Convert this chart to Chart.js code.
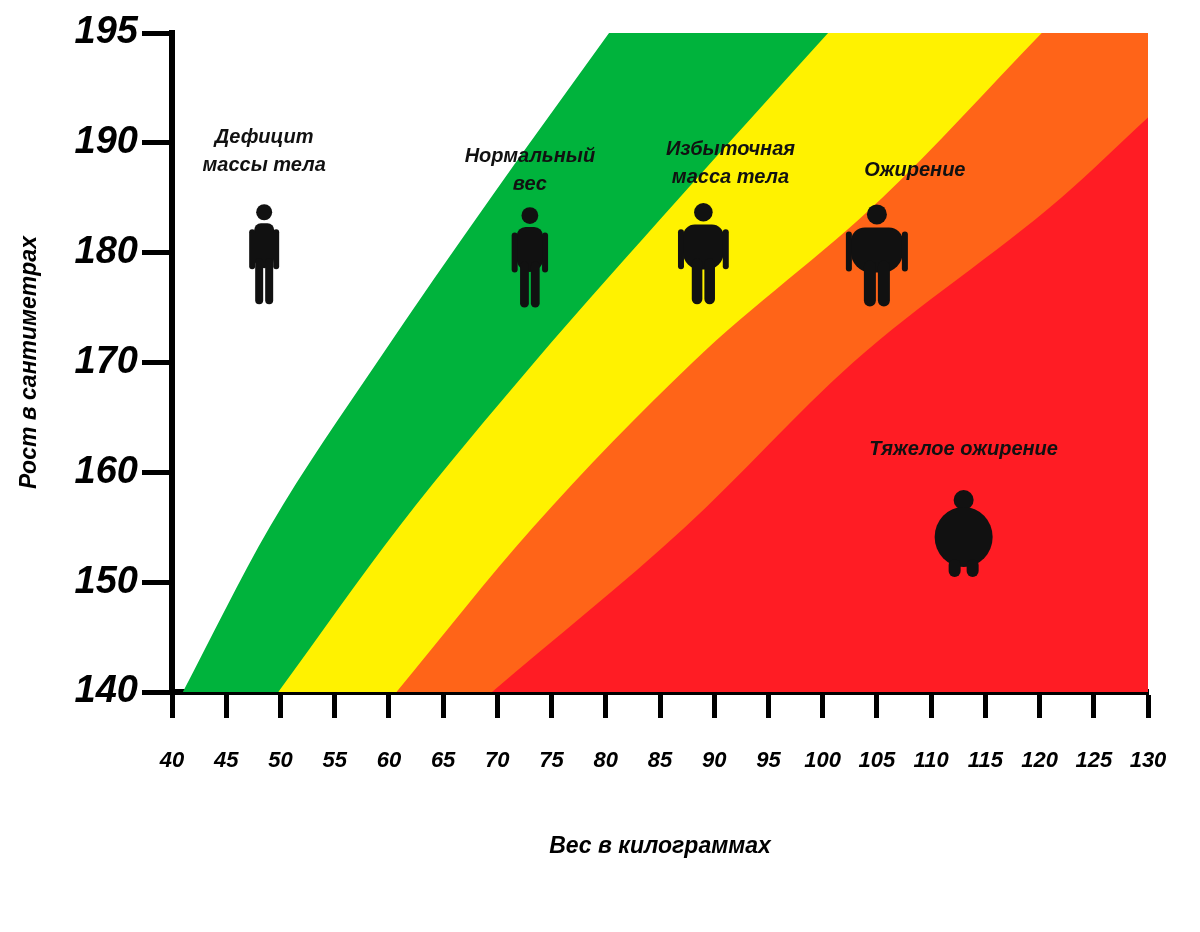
<!DOCTYPE html>
<html><head><meta charset="utf-8">
<script src="https://cdn.jsdelivr.net/npm/chart.js@4"></script>
<style>html,body{margin:0;background:#fff}#wrap{width:1200px;height:932px}</style>
</head><body><div id="wrap"><canvas id="c"></canvas></div>
<script>
// the axis puts "195" one full step above 190, so the top of the scale is 200 (labelled 195)
const yTicks     = [140, 150, 160, 170, 180, 190, 200];
const yTickText  = ['140', '150', '160', '170', '180', '190', '195'];

// boundaries between zones: weight (kg) at given scale height
// (last point continues each boundary past the clipped top / right edge)
const heights   = [140, 155, 170, 185, 200, 215];
const underNorm = [41, 49, 58.9, 69.4, 80.3, 91.2];
const normOver  = [49.8, 60.9, 73.4, 86.8, 100.5, 114.2];
const overObese = [60.7, 73.3, 88, 105.5, 120.2, 134.9];
const obeseHeavyH = [140, 155, 170, 185, 192.3, 201.4];
const obeseHeavy  = [69.5, 87.3, 102.8, 122, 130, 140];

const zoneLabels = [
  { x: 48.5, y: 190,   lines: ['Дефицит', 'массы тела'] },
  { x: 73,   y: 188.3, lines: ['Нормальный', 'вес'] },
  { x: 91.5, y: 188.9, lines: ['Избыточная', 'масса тела'] },
  { x: 108.5, y: 187,  lines: ['Ожирение'] },
  { x: 113,  y: 161.6, lines: ['Тяжелое ожирение'] },
];
// figure: x, y (head top), girth
const figures = [
  { x: 48.5, y: 184.5, w: 0 },
  { x: 73,   y: 184.2, w: 0.4 },
  { x: 89,   y: 184.5, w: 1.3 },
  { x: 105,  y: 184.3, w: 2 },
  { x: 113,  y: 158.3, w: 3 },
];

const FONT = '"Liberation Sans"';

function zone(ws, hs, color, order) {
  const pts = ws.map((w, i) => ({ x: w, y: hs[i] }));
  pts.push({ x: 170, y: hs[hs.length - 1] });
  return { data: pts, showLine: true, borderWidth: 0, pointRadius: 0,
    backgroundColor: color, borderColor: color, fill: 'start', order,
    cubicInterpolationMode: 'monotone' };
}

function limb(ctx, x, y, w, h) {
  ctx.beginPath(); ctx.roundRect(x, y, w, h, w / 2); ctx.fill();
}

const decor = {
  id: 'decor',
  afterDatasetsDraw(chart) {
    const { ctx, scales: { x, y } } = chart;
    ctx.save();
    ctx.fillStyle = '#111';
    ctx.textAlign = 'center';
    ctx.font = `italic bold 20px ${FONT}`;
    zoneLabels.forEach(l => {
      l.lines.forEach((t, i) => ctx.fillText(t, x.getPixelForValue(l.x), y.getPixelForValue(l.y) + i * 28));
    });
    figures.forEach(f => {
      const cx = x.getPixelForValue(f.x), top = y.getPixelForValue(f.y);
      const g = f.w;
      if (g < 3) {
        ctx.beginPath(); ctx.arc(cx, top + 9, 8 + g, 0, Math.PI * 2); ctx.fill();
        const bw = 10 + g * 8;
        ctx.beginPath(); ctx.roundRect(cx - bw, top + 20 + g, bw * 2, 45, [8 + g * 3, 8 + g * 3, 12 + g * 4, 12 + g * 4]); ctx.fill();
        limb(ctx, cx - bw - 5, top + 26, 6, 40);
        limb(ctx, cx + bw - 1, top + 26, 6, 40);
        limb(ctx, cx - 9 - g * 2, top + 55, 8 + g * 2, 46);
        limb(ctx, cx + 1, top + 55, 8 + g * 2, 46);
      } else {
        ctx.beginPath(); ctx.arc(cx, top + 9, 10, 0, Math.PI * 2); ctx.fill();
        ctx.beginPath(); ctx.ellipse(cx, top + 46, 29, 30, 0, 0, Math.PI * 2); ctx.fill();
        limb(ctx, cx - 15, top + 68, 12, 18);
        limb(ctx, cx + 3, top + 68, 12, 18);
      }
    });
    ctx.restore();
  }
};

new Chart(document.getElementById('c'), {
  type: 'scatter',
  data: { datasets: [
    zone(underNorm, heights, '#00b33c', 4),
    zone(normOver, heights, '#fff200', 3),
    zone(overObese, heights, '#ff6418', 2),
    zone(obeseHeavy, obeseHeavyH, '#ff1c24', 1),
  ] },
  options: {
    responsive: true, maintainAspectRatio: false, animation: false,
    layout: { padding: { top: 33, right: 52, left: 12, bottom: 68 } },
    plugins: { legend: { display: false }, tooltip: { enabled: false } },
    scales: {
      x: {
        min: 40, max: 130,
        afterFit: s => { s.height = 172; },
        ticks: { stepSize: 5, color: '#000', padding: 30, maxRotation: 0,
          font: { family: FONT, size: 22, style: 'italic', weight: 'bold' } },
        grid: { drawOnChartArea: false, tickLength: 26, tickWidth: 5, color: '#000' },
        border: { width: 6, color: '#000' },
        title: { display: true, text: 'Вес в килограммах', color: '#000', padding: { top: 50 },
          font: { family: FONT, size: 23, style: 'italic', weight: 'bold' } },
      },
      y: {
        min: 140, max: 200,
        afterFit: s => { s.width = 160; },
        afterBuildTicks: s => { s.ticks = yTicks.map(v => ({ value: v })); },
        ticks: { color: '#000', padding: 4,
          callback: v => yTickText[yTicks.indexOf(v)],
          font: { family: FONT, size: 38, style: 'italic', weight: 'bold' } },
        grid: { drawOnChartArea: false, tickLength: 30, tickWidth: 5, color: '#000' },
        border: { width: 6, color: '#000' },
        title: { display: true, text: 'Рост в сантиметрах', color: '#000', padding: { bottom: 6 },
          font: { family: FONT, size: 23, style: 'italic', weight: 'bold' } },
      },
    },
  },
  plugins: [decor],
});
</script></body></html>
